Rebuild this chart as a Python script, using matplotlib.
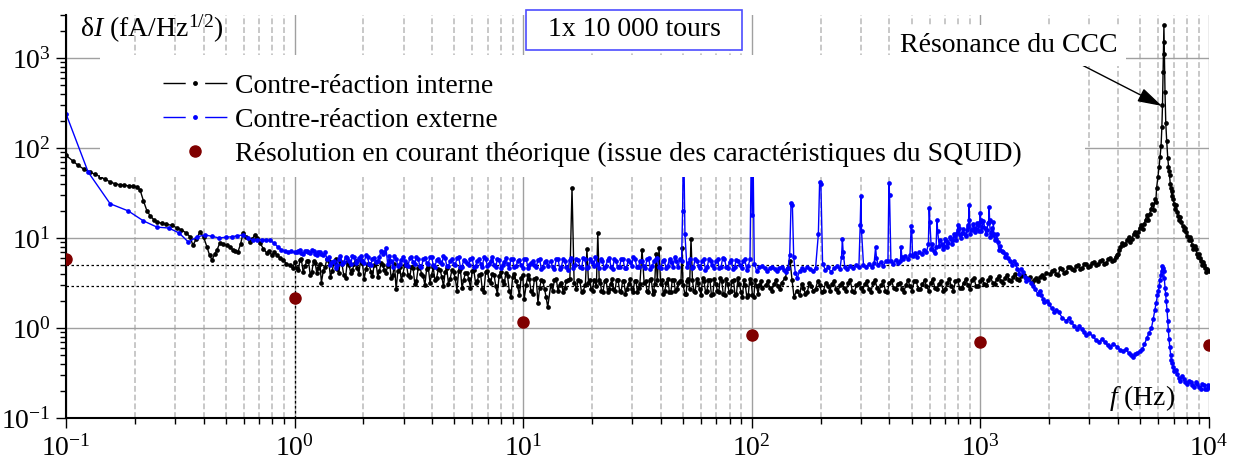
import matplotlib
matplotlib.use("Agg")
import matplotlib.pyplot as plt
import numpy as np
from matplotlib.lines import Line2D
from matplotlib.patches import Rectangle
from matplotlib.ticker import LogLocator, LogFormatterSciNotation, NullFormatter

# ---------------- data ----------------
# "Contre-réaction interne" (black)
int_f_a = [0.100, 0.107, 0.113, 0.120, 0.127, 0.134, 0.141, 0.148, 0.156, 0.164,
           0.172, 0.180, 0.188, 0.196, 0.204, 0.211, 0.218, 0.226, 0.234, 0.242,
           0.250, 0.262, 0.275, 0.290, 0.305, 0.320, 0.335, 0.349, 0.359, 0.372,
           0.386, 0.400, 0.414, 0.425, 0.435, 0.447, 0.458, 0.471, 0.488, 0.506,
           0.521, 0.537, 0.551, 0.565, 0.580, 0.595, 0.615, 0.637, 0.653, 0.670,
           0.688, 0.706, 0.730, 0.756, 0.775, 0.795, 0.815, 0.836, 0.862, 0.890,
           0.920, 0.953, 0.982]
int_v_a = [83, 72, 64, 58, 54, 51, 48, 45, 42, 40,
           39, 38.5, 38, 37.5, 37, 34, 26, 20, 17.5, 16,
           15, 14.6, 14.2, 13.8, 13, 12.3, 11.4, 10.3, 8.3, 9.8,
           11.7, 10.2, 7.9, 6.4, 5.7, 6.6, 7.4, 8.8, 8.6, 8.3,
           7.9, 7.4, 7.2, 7.0, 8.5, 11.3, 10.2, 9.0, 9.8, 10.8,
           10.0, 8.8, 7.6, 6.8, 7.2, 6.4, 6.9, 6.5, 6.0, 5.7,
           5.2, 5.0, 4.6]

int_f_b = [1.00, 1.04, 1.07, 1.11, 1.15, 1.19, 1.23, 1.27, 1.31, 1.36,
           1.41, 1.46, 1.51, 1.56, 1.61, 1.67, 1.73, 1.79, 1.85, 1.91,
           1.98, 2.05, 2.12, 2.19, 2.27, 2.35, 2.43, 2.51, 2.60, 2.69,
           2.78, 2.88, 2.98, 3.08, 3.19, 3.30, 3.41, 3.53, 3.65, 3.78,
           3.91, 4.04, 4.18, 4.33, 4.48, 4.63, 4.79, 4.96, 5.13, 5.31,
           5.49, 5.68, 5.88, 6.08, 6.29, 6.51, 6.73, 6.97, 7.21, 7.46,
           7.71, 7.98, 8.26, 8.54, 8.84, 9.14, 9.46, 9.79, 10.1, 10.5,
           10.8, 11.2, 11.6, 12.0, 12.4, 12.8]
int_v_b = [5.4, 4.4, 5.8, 4.9, 5.6, 4.2, 5.3, 4.6, 3.2, 4.8,
           5.5, 4.3, 5.9, 4.1, 5.2, 3.6, 5.0, 4.4, 5.6, 4.0,
           5.3, 4.5, 5.1, 3.8, 5.4, 4.3, 5.0, 4.1, 5.5, 3.9,
           2.7, 4.8, 4.0, 5.2, 3.7, 4.6, 3.3, 4.9, 3.8, 4.5,
           3.2, 4.7, 3.6, 4.4, 2.9, 4.6, 3.5, 4.2, 2.6, 4.5,
           3.4, 4.1, 2.8, 4.4, 3.3, 4.0, 2.5, 4.3, 3.2, 3.9,
           2.4, 4.2, 3.1, 3.8, 2.2, 4.0, 2.9, 3.6, 2.1, 3.9,
           2.6, 3.5, 1.9, 3.4, 2.7, 1.7]

mid_f_b = [1.02, 1.055, 1.09, 1.13, 1.17, 1.21, 1.25, 1.29, 1.335, 1.385,
           1.435, 1.485, 1.535, 1.585, 1.64, 1.70, 1.76, 1.82, 1.88, 1.945,
           2.015, 2.085, 2.155, 2.23, 2.31, 2.39, 2.47, 2.555, 2.645, 2.735,
           2.83, 2.93, 3.03, 3.135, 3.245, 3.355, 3.47, 3.59, 3.715, 3.845,
           3.975, 4.11, 4.255, 4.405, 4.555, 4.71, 4.875, 5.045, 5.22, 5.40,
           5.585, 5.78, 5.98, 6.185, 6.40, 6.62, 6.85, 7.09, 7.335, 7.585,
           7.845, 8.12, 8.40, 8.69, 8.99, 9.30, 9.625, 9.95, 10.3, 10.65,
           11.0, 11.4, 11.8, 12.2, 12.6]
int_v_b2 = [4.6, 5.7, 4.2, 5.5, 3.9, 5.6, 4.1, 5.2, 4.3, 5.8,
            3.7, 5.3, 4.5, 5.6, 3.9, 5.4, 4.1, 5.1, 4.6, 5.7,
            3.5, 5.2, 4.2, 5.0, 3.7, 5.3, 4.4, 4.9, 3.6, 5.1,
            4.3, 3.4, 5.0, 3.9, 4.8, 3.1, 4.6, 4.0, 3.0, 4.7,
            3.9, 3.4, 4.5, 3.7, 4.2, 3.1, 4.4, 3.6, 4.3, 2.8,
            4.1, 3.5, 4.3, 3.2, 3.9, 2.7, 4.2, 3.4, 4.0, 2.9,
            3.8, 3.3, 4.1, 2.6, 3.7, 3.3, 2.3, 3.9, 3.0, 3.5,
            2.4, 3.6, 2.8, 3.3, 2.2]

int_f_c = [13.2, 13.7, 14.2, 14.7, 15.2, 15.7, 16.0, 16.35, 16.7, 17.1,
           17.7, 18.3, 18.7, 19.0, 19.3, 19.8, 20.4, 20.9, 21.2, 21.5,
           22.0, 22.7, 23.4, 24.1, 24.8, 25.6, 26.4, 27.2, 28.0, 28.9,
           29.8, 30.7, 31.6, 32.4, 33.1, 33.8, 34.8, 35.8, 36.9, 37.6,
           38.1, 38.6, 39.3, 39.9, 41.0, 42.3, 43.6, 44.9, 46.3, 47.7,
           49.0, 49.5, 50.0, 51.0, 52.2, 53.4, 54.2, 55.0, 56.5, 58.2,
           60.0, 61.8, 63.7, 65.6, 67.6, 69.6, 71.7, 73.9, 76.1, 78.4,
           80.8, 83.2, 85.7, 88.3, 91.0, 93.7, 96.5, 99.4, 102, 105,
           108, 111]
int_v_c = [3.0, 3.4, 2.6, 3.2, 2.8, 3.4, 3.5, 36, 3.2, 2.7,
           3.3, 2.6, 3.0, 7.5, 3.2, 2.7, 3.4, 2.9, 11.4, 3.4,
           2.6, 3.3, 2.5, 3.1, 2.7, 3.4, 2.6, 3.3, 2.4, 3.1,
           2.7, 3.3, 2.5, 3.1, 7.4, 3.2, 2.6, 3.4, 2.4, 3.1,
           6.6, 3.4, 7.7, 3.1, 2.4, 3.2, 2.5, 3.4, 2.6, 3.2,
           3.3, 7.7, 3.0, 2.4, 3.3, 2.7, 9.8, 3.4, 2.5, 3.2,
           2.3, 3.3, 2.6, 3.4, 2.4, 3.1, 2.5, 3.3, 2.3, 3.1,
           2.6, 3.4, 2.4, 3.1, 2.2, 3.0, 2.3, 3.2, 2.2, 2.9,
           3.0, 2.8]

int_f_c2 = [13.45, 13.95, 14.45, 14.95, 15.45, 17.4, 18.0, 19.55, 20.1, 20.65,
            21.75, 22.35, 23.05, 23.75, 24.45, 25.2, 26.0, 26.8, 27.6, 28.45,
            29.35, 30.25, 31.15, 32.0, 34.3, 35.3, 36.35, 37.25, 40.45, 41.65,
            42.95, 44.25, 45.6, 47.0, 48.3, 51.6, 52.8, 55.75, 57.35, 59.1,
            60.9, 62.75, 64.65, 66.6, 68.6, 70.65, 72.8, 75.0, 77.25, 79.6,
            82.0, 84.45, 87.0, 89.65, 92.35, 95.1, 97.95, 100.7, 103.5, 106.5,
            109.5]
int_v_c2 = [2.6, 3.5, 3.0, 2.5, 3.3, 3.4, 2.5, 3.4, 2.6, 3.3,
            3.2, 2.5, 3.4, 2.7, 3.5, 2.6, 3.4, 2.5, 3.3, 2.7,
            3.5, 2.5, 3.3, 2.8, 3.3, 2.5, 3.5, 2.6, 3.4, 2.6,
            3.5, 2.5, 3.4, 2.7, 3.3, 2.4, 3.5, 2.6, 3.5, 2.7,
            3.6, 2.5, 3.4, 2.3, 3.5, 2.6, 3.6, 2.4, 3.5, 2.5,
            3.3, 2.3, 3.6, 2.5, 3.4, 2.2, 3.5, 2.3, 3.4, 2.4,
            3.3]

int_f_d = [115, 120, 125, 130, 135, 140, 144, 147, 150, 153,
           157, 162, 168, 175, 182, 190, 198, 206, 215, 224,
           233, 243, 253, 264, 275, 287, 299, 312, 325, 339,
           353, 368, 384, 400, 417, 435, 453, 472, 492, 513,
           535, 558, 581, 606, 632, 659, 687, 716, 746, 778,
           811, 845, 881, 918, 957, 998, 1040, 1085, 1130, 1180,
           1230, 1280, 1340, 1390, 1450, 1510, 1580, 1640, 1710, 1790,
           1860, 1940]
int_v_d = [3.0, 2.8, 3.1, 2.9, 3.2, 3.6, 4.6, 5.6, 3.4, 2.2,
           2.6, 2.3, 2.8, 2.5, 2.9, 2.7, 3.0, 2.6, 2.9, 3.1,
           2.7, 3.0, 2.8, 3.2, 2.6, 3.0, 2.8, 3.1, 2.7, 3.2,
           2.8, 3.0, 2.6, 3.2, 2.8, 3.1, 2.7, 3.0, 2.9, 3.3,
           2.7, 3.1, 2.9, 3.2, 2.8, 3.1, 2.6, 3.2, 2.9, 3.3,
           2.8, 3.2, 3.0, 3.4, 2.9, 3.3, 3.1, 3.4, 3.2, 3.5,
           3.3, 3.6, 3.4, 3.7, 3.5, 3.8, 3.6, 3.7, 3.4, 3.3,
           3.9, 4.1]

int_f_d2 = [117.5, 122.5, 127.5, 132.5, 165, 171.5, 178.5, 186, 194, 202,
            210.5, 219.5, 228.5, 238, 248, 258.5, 269.5, 281, 293, 305.5,
            318.5, 332, 346, 360.5, 376, 392, 408.5, 426, 444, 462.5,
            482, 502.5, 524, 546.5, 569.5, 593.5, 619, 645.5, 673, 701.5,
            731, 762, 794.5, 828, 863, 899.5, 937.5, 977.5, 1019, 1062,
            1107, 1155, 1205, 1255, 1310, 1365, 1420, 1480, 1545, 1610,
            1675, 1750, 1825, 1900]
int_v_d2 = [3.3, 2.6, 3.4, 2.7, 3.1, 2.4, 3.2, 2.6, 3.3, 2.5,
            3.2, 2.6, 3.3, 2.5, 3.2, 2.6, 3.4, 2.5, 3.2, 2.6,
            3.3, 2.5, 3.4, 2.6, 3.3, 2.5, 3.4, 2.7, 3.2, 2.5,
            3.4, 2.6, 3.3, 2.7, 3.4, 2.6, 3.5, 2.7, 3.3, 2.7,
            3.5, 2.6, 3.4, 2.8, 3.5, 2.7, 3.6, 2.9, 3.5, 3.0,
            3.7, 3.1, 3.8, 3.2, 3.9, 3.3, 4.0, 3.4, 3.9, 3.5,
            3.2, 3.6, 3.7, 3.6]

int_f_e = [2020, 2100, 2190, 2280, 2370, 2470, 2570, 2680, 2790, 2900,
           3020, 3150, 3280, 3410, 3550, 3700, 3850, 3950, 4050, 4150,
           4300, 4450, 4600, 4750, 4900, 5050, 5200, 5350, 5500, 5650,
           5800, 5900, 5980, 6050, 6110, 6170, 6220, 6260, 6300, 6330,
           6350, 6380, 6420, 6470, 6530, 6600, 6680, 6770, 6870, 6980,
           7100, 7250, 7400, 7570, 7750, 7950, 8150, 8350, 8550, 8750,
           8950, 9150, 9350, 9550, 9750, 9950]
int_v_e = [4.0, 4.4, 3.9, 4.5, 4.2, 4.8, 4.4, 5.0, 4.6, 5.2,
           4.9, 5.4, 5.1, 5.7, 5.3, 6.0, 5.7, 6.5, 7.4, 8.9,
           8.5, 10.2, 9.8, 11.8, 11.6, 14, 14.2, 18, 18.6, 24,
           27, 36, 48, 62, 80, 105, 170, 300, 700, 1500,
           2300, 1100, 420, 190, 120, 78, 55, 40, 29, 27,
           21, 19.5, 15.8, 15.2, 12.4, 11.8, 9.6, 9.4, 7.6, 7.5,
           6.1, 6.0, 5.0, 5.0, 4.2, 4.3]

int_f_e2 = [2060, 2145, 2235, 2325, 2420, 2520, 2625, 2735, 2845, 2960,
            3085, 3215, 3345, 3480, 3625, 3775, 3900, 4000, 4100, 4225,
            4375, 4525, 4675, 4825, 4975, 5125, 5275, 5425, 5575, 5725,
            5850, 6650, 6720, 6820, 6920, 7040, 7170, 7320, 7480, 7660,
            7850, 8050, 8250, 8450, 8650, 8850, 9050, 9250, 9450, 9650,
            9850]
int_v_e2 = [4.3, 4.0, 4.6, 4.1, 4.7, 4.5, 4.9, 4.5, 5.1, 4.8,
            5.3, 5.0, 5.5, 5.2, 5.8, 5.5, 6.2, 6.6, 8.0, 8.4,
            9.6, 9.1, 11.0, 10.5, 13.0, 12.6, 16.0, 15.7, 21, 20.5,
            25, 62, 50, 36, 33, 24, 23, 17.5, 17, 13.5,
            13.0, 10.5, 10.3, 8.3, 8.2, 6.7, 6.6, 5.5, 5.4, 4.6,
            4.5]

# "Contre-réaction externe" (blue)
ext_f_a = [0.100, 0.125, 0.156, 0.187, 0.218, 0.250, 0.281, 0.312, 0.343, 0.375,
           0.406, 0.437, 0.468, 0.500, 0.531, 0.562, 0.593, 0.625, 0.656, 0.687,
           0.718, 0.750, 0.781, 0.812, 0.843, 0.875, 0.906, 0.937, 0.968, 1.000]
ext_v_a = [240, 54, 24, 20, 15.5, 13.2, 12.9, 11.4, 9.0, 10.3,
           10.8, 10.4, 10.0, 10.2, 10.3, 10.6, 10.8, 10.0, 9.5, 9.6,
           9.6, 9.5, 9.4, 8.8, 8.0, 7.4, 7.2, 7.0, 7.1, 6.9]

ext_f_b = [1.03, 1.07, 1.11, 1.15, 1.19, 1.23, 1.27, 1.31, 1.36, 1.41,
           1.46, 1.51, 1.56, 1.61, 1.67, 1.73, 1.79, 1.85, 1.91, 1.98,
           2.05, 2.12, 2.19, 2.27, 2.35, 2.43, 2.51, 2.60, 2.69, 2.78,
           2.88, 2.98, 3.08, 3.19, 3.30, 3.41, 3.53, 3.65, 3.78, 3.91,
           4.04, 4.18, 4.33, 4.48, 4.63, 4.79, 4.96, 5.13, 5.31, 5.49,
           5.68, 5.88, 6.08, 6.29, 6.51, 6.73, 6.97, 7.21, 7.46, 7.71,
           7.98, 8.26, 8.54, 8.84, 9.14, 9.46, 9.79, 10.1, 10.5, 10.8,
           11.2, 11.6, 12.0, 12.4, 12.8]
ext_v_b = [7.1, 6.8, 7.2, 6.9, 7.3, 6.7, 7.0, 6.6, 7.0, 6.2,
           5.4, 4.6, 5.8, 5.2, 6.1, 5.5, 6.3, 5.3, 6.0, 5.6,
           6.4, 5.1, 5.9, 5.4, 6.2, 6.6, 7.7, 6.3, 4.8, 5.9,
           5.2, 6.1, 5.0, 6.0, 5.4, 6.2, 4.9, 5.8, 5.3, 6.1,
           5.0, 5.7, 5.4, 6.3, 4.9, 5.6, 5.2, 6.0, 4.8, 5.7,
           5.3, 5.9, 4.7, 5.5, 5.2, 6.1, 4.9, 5.6, 5.0, 5.8,
           4.6, 5.4, 5.1, 5.9, 4.7, 5.5, 5.0, 5.8, 4.6, 5.3,
           5.0, 5.7, 4.5, 5.4, 4.9]
ext_v_b2 = [6.9, 7.3, 6.6, 7.1, 6.8, 7.2, 6.5, 6.9, 6.4, 5.8,
            5.0, 5.6, 5.0, 6.3, 5.4, 6.0, 5.1, 6.2, 5.5, 6.3,
            5.3, 6.1, 5.0, 6.0, 5.6, 7.2, 6.9, 5.1, 5.5, 6.3,
            4.9, 5.7, 5.6, 4.9, 6.2, 5.1, 5.9, 4.7, 6.0, 5.2,
            6.2, 4.8, 5.9, 5.1, 6.0, 4.9, 5.8, 5.0, 6.2, 4.8,
            5.6, 5.0, 6.0, 4.9, 5.8, 4.7, 5.9, 5.2, 6.1, 4.8,
            5.7, 5.0, 6.0, 4.6, 5.8, 4.9, 5.7, 4.6, 5.9, 5.0,
            5.5, 4.7, 5.9, 4.8, 5.6]

ext_f_c = [13.2, 13.7, 14.2, 14.7, 15.2, 15.7, 16.2, 16.8, 17.4, 18.0,
           18.6, 19.3, 20.0, 20.7, 21.4, 22.2, 23.0, 23.8, 24.6, 25.5,
           26.4, 27.3, 28.3, 29.3, 30.3, 31.4, 32.5, 33.6, 34.8, 36.0,
           37.3, 38.6, 40.0, 41.4, 42.9, 44.4, 46.0, 47.6, 49.3, 49.8,
           50.3, 51.0, 52.8, 54.6, 56.5, 58.5, 60.6, 62.7, 64.9, 67.2,
           69.6, 72.0, 74.6, 77.2, 79.9, 82.7, 85.6, 88.6, 91.7, 94.9,
           98.2, 99.6, 100.4, 101.2, 102.5, 105, 108, 111, 114, 117,
           120, 123, 126, 129, 132, 135, 138, 141, 144, 146.5,
           148.5, 150.5, 152.5, 155, 158, 162, 166, 170, 175, 180,
           185, 190, 195.5, 198, 200.5, 204, 210, 216, 222, 229,
           236, 243, 247, 249, 251, 255, 262, 270, 278, 286,
           294, 298, 300, 302, 308, 316, 325, 334, 343, 348,
           351, 357, 366, 376, 386, 394, 398, 400.5, 406, 416,
           426, 437, 447, 450, 453, 460, 470, 481, 492, 498,
           501, 505, 516, 528, 541, 554, 567, 581, 592, 597,
           601, 610, 625, 640, 646, 650, 660, 676, 692, 708,
           725, 742, 760, 778, 792, 797, 801, 815, 834, 853,
           873, 887, 891, 896, 915, 935, 955, 975, 993, 998,
           1003, 1020, 1045, 1070, 1086, 1092, 1097, 1115, 1135, 1140,
           1145, 1165, 1190]
ext_v_c = [5.6, 4.5, 5.9, 4.8, 5.5, 4.4, 6.0, 5.0, 5.7, 4.6,
           5.8, 4.7, 5.4, 6.1, 4.6, 5.6, 4.9, 6.0, 4.5, 5.5,
           4.8, 5.9, 4.6, 5.4, 6.2, 4.7, 5.6, 4.9, 5.8, 4.5,
           5.5, 6.0, 4.6, 5.7, 4.9, 5.4, 6.1, 4.7, 5.5, 20,
           150, 11, 5.3, 4.6, 5.8, 4.9, 5.6, 4.4, 5.9, 5.0,
           5.5, 4.6, 6.0, 4.8, 5.4, 4.5, 5.7, 5.0, 5.6, 4.4,
           5.8, 120, 18, 100, 5.2, 4.3, 4.7, 4.9, 4.6, 4.3,
           4.6, 4.8, 4.5, 4.3, 4.6, 4.8, 4.4, 4.2, 4.6, 6.5,
           24.5, 23, 6.2, 4.1, 3.6, 4.3, 4.6, 4.4, 4.7, 4.5,
           4.3, 4.6, 11, 42, 40, 5.2, 4.4, 4.7, 4.2, 4.6,
           4.9, 4.5, 6.2, 9.7, 7.0, 4.8, 4.5, 4.9, 4.6, 5.0,
           4.7, 14, 29, 12, 5.0, 4.7, 5.1, 4.8, 5.3, 7.9,
           6.0, 5.0, 5.4, 4.9, 5.5, 5.6, 41, 30, 5.5, 5.2,
           5.7, 5.3, 5.6, 7.9, 6.2, 5.9, 6.3, 5.8, 6.5, 13.6,
           12, 6.3, 6.8, 6.2, 7.0, 6.6, 7.3, 7.0, 8.5, 21.5,
           15, 7.6, 7.2, 8.0, 15.8, 12, 8.2, 8.6, 8.2, 9.2,
           8.8, 9.8, 9.4, 10.5, 11.5, 14, 12.4, 10.8, 11.5, 11.0,
           12.2, 14, 23, 16, 12.4, 13.0, 12.6, 13.8, 15, 19,
           16, 13.4, 13.0, 12.2, 15, 22, 16, 11.4, 10.8, 15,
           11.0, 9.8, 9.0]

ext_f_c2 = [13.45, 13.95, 14.45, 14.95, 15.45, 15.95, 16.5, 17.1, 17.7, 18.3,
            18.95, 19.65, 20.35, 21.05, 21.8, 22.6, 23.4, 24.2, 25.05, 25.95,
            26.85, 27.8, 28.8, 29.8, 30.85, 31.95, 33.05, 34.2, 35.4, 36.65,
            37.95, 39.3, 40.7, 42.15, 43.65, 45.2, 46.8, 48.4, 52.0, 53.7,
            55.55, 57.5, 59.55, 61.65, 63.8, 66.05, 68.4, 70.8, 73.3, 75.9,
            78.55, 81.3, 84.15, 87.1, 90.15, 93.3, 96.5,
            617, 632, 668, 684, 700, 716, 733, 751, 769, 785,
            808, 824, 843, 863, 880, 905, 925, 945, 965, 985,
            1010, 1030, 1057, 1078, 1105, 1125, 1155, 1178, 1205]
ext_v_c2 = [4.7, 5.8, 4.5, 5.9, 4.7, 5.7, 4.6, 5.9, 4.8, 6.0,
            4.6, 5.8, 4.9, 5.2, 5.9, 4.6, 5.7, 4.8, 5.9, 4.7,
            5.8, 4.6, 5.7, 4.9, 5.9, 4.8, 5.5, 4.6, 6.0, 4.9,
            5.8, 4.7, 5.6, 4.6, 5.9, 4.8, 5.5, 5.9, 4.8, 5.8,
            4.7, 5.6, 4.6, 5.8, 4.7, 5.5, 4.6, 5.8, 4.7, 5.9,
            4.6, 5.7, 4.8, 5.5, 4.6, 5.8, 4.9,
            8.6, 6.8, 9.4, 7.6, 9.8, 8.0, 10.2, 8.6, 11.2, 9.6,
            12.8, 10.0, 12.6, 10.4, 13.4, 11.0, 14.4, 11.6, 14.8, 12.0,
            12.0, 15.5, 11.0, 14.5, 10.2, 13.0, 9.6, 11.0, 7.4]

ext_f_d = [1220, 1260, 1300, 1350, 1400, 1450, 1500, 1560, 1620, 1700,
           1780, 1850, 1900, 2000, 2100, 2200, 2370, 2500, 2650, 2770,
           2900, 3100, 3300, 3500, 3700, 3950, 4200, 4450, 4650, 4850,
           5100, 5350, 5600, 5800, 5950, 6050, 6150, 6250, 6330, 6420,
           6500, 6600, 6680, 6800, 6900, 7050, 7250, 7500, 7750, 8000,
           8300, 8600, 8900, 9200, 9500, 9800, 10000]
ext_v_d = [8.2, 7.0, 6.6, 5.5, 5.6, 4.5, 4.5, 3.7, 3.5, 2.9,
           2.4, 2.3, 1.95, 1.85, 1.52, 1.5, 1.2, 1.16, 0.98, 0.97,
           0.84, 0.81, 0.70, 0.70, 0.61, 0.62, 0.55, 0.53, 0.48, 0.53,
           0.58, 0.78, 1.0, 1.6, 2.3, 2.9, 3.9, 4.9, 4.3, 2.8,
           2.0, 1.2, 0.76, 0.5, 0.41, 0.33, 0.31, 0.26, 0.27, 0.24,
           0.25, 0.22, 0.24, 0.21, 0.23, 0.21, 0.22]

ext_f_d2 = [1240, 1280, 1325, 1375, 1425, 1475, 1530, 1590, 1660, 1740,
            1815, 1875, 1950, 2050, 2150, 2280, 2430, 2570, 2710, 2830,
            3000, 3200, 3400, 3600, 3820, 4070, 4320, 4550, 4750, 4970,
            5220, 5470, 5700, 5870, 6000, 6100, 6200, 6290, 6370, 6460,
            6550, 6640, 6740, 6850, 6970, 7150, 7370, 7620, 7870, 8150,
            8450, 8750, 9050, 9350, 9650, 9900]
ext_v_d2 = [7.2, 6.2, 6.0, 5.0, 5.1, 4.0, 4.2, 3.3, 3.2, 2.7,
            2.6, 2.1, 2.0, 1.65, 1.6, 1.3, 1.28, 1.06, 1.04, 0.9,
            0.88, 0.74, 0.75, 0.64, 0.67, 0.57, 0.58, 0.5, 0.51, 0.55,
            0.66, 0.88, 1.25, 1.9, 2.6, 3.4, 4.3, 4.6, 3.6, 2.4,
            1.6, 0.95, 0.62, 0.44, 0.37, 0.34, 0.28, 0.29, 0.25, 0.26,
            0.23, 0.25, 0.22, 0.24, 0.21, 0.23]

# theoretical current resolution (dark red dots)
theo_f = [0.1, 1, 10, 100, 1000, 10000]
theo_v = [5.85, 2.17, 1.17, 0.84, 0.69, 0.65]

# dotted guide lines
guide_levels = [5.0, 2.9]
guide_ends = [2000, 1500]
guide_vf = 1.0
guide_vtop = 5.0

labels = ["Contre-réaction interne", "Contre-réaction externe",
          "Résolution en courant théorique (issue des caractéristiques du SQUID)"]
resonance_tip = (6223, 293)
resonance_tail = (2727, 857)


def merge(fs, vs):
    f = np.concatenate(fs)
    v = np.concatenate(vs)
    assert len(f) == len(v), (len(f), len(v))
    o = np.argsort(f, kind='stable')
    return f[o], v[o]


int_f, int_v = merge([int_f_a, int_f_b, mid_f_b, int_f_c, int_f_c2, int_f_d, int_f_d2, int_f_e, int_f_e2],
                     [int_v_a, int_v_b, int_v_b2, int_v_c, int_v_c2, int_v_d, int_v_d2, int_v_e, int_v_e2])
ext_f, ext_v = merge([ext_f_a, ext_f_b, mid_f_b, ext_f_c, ext_f_c2, ext_f_d, ext_f_d2],
                     [ext_v_a, ext_v_b, ext_v_b2, ext_v_c, ext_v_c2, ext_v_d, ext_v_d2])

# ---------------- style ----------------
plt.rcParams['font.family'] = ['Liberation Serif', 'DejaVu Serif']
plt.rcParams['mathtext.fontset'] = 'custom'
plt.rcParams['mathtext.rm'] = 'Liberation Serif'
plt.rcParams['mathtext.it'] = 'Liberation Serif:italic'
plt.rcParams['mathtext.bf'] = 'Liberation Serif:bold'

W, H = 1238, 461
fig = plt.figure(figsize=(W / 100, H / 100), dpi=100)
ax = fig.add_axes([66 / W, 1 - 418 / H, (1209 - 66) / W, (418 - 15) / H])

ax.set_xscale('log')
ax.set_yscale('log')
ax.set_xlim(0.1, 1e4)
ax.set_ylim(0.1, 3000)

ax.plot(int_f, int_v, color='black', lw=1, marker='o', ms=3.4, mew=0, zorder=2)
ax.plot(ext_f, ext_v, color='#0000ff', lw=1, marker='o', ms=3.4, mew=0, zorder=2.1)
ax.plot(theo_f, theo_v, ls='none', marker='o', ms=8, color='#800000', zorder=3)

for lev, end in zip(guide_levels, guide_ends):
    ax.hlines(lev, 0.1, end, colors='black', lw=0.9, linestyles=(0, (2, 2)), zorder=1.5)
ax.vlines(guide_vf, 0.1, guide_vtop, colors='black', lw=0.9, linestyles=(0, (2, 2)), zorder=1.5)

ax.set_axisbelow(True)
ax.grid(which='major', axis='both', color='#a0a0a0', lw=1, ls='-')
ax.grid(which='minor', axis='x', color='#c8c8c8', lw=1.4, ls=(0, (3, 1.5)))

ax.xaxis.set_major_locator(LogLocator(base=10, numticks=10))
ax.xaxis.set_minor_locator(LogLocator(base=10, subs=np.arange(2, 10), numticks=20))
ax.yaxis.set_major_locator(LogLocator(base=10, numticks=10))
ax.yaxis.set_minor_locator(LogLocator(base=10, subs=np.arange(2, 10), numticks=20))
ax.xaxis.set_major_formatter(LogFormatterSciNotation())
ax.yaxis.set_major_formatter(LogFormatterSciNotation())
ax.xaxis.set_minor_formatter(NullFormatter())
ax.yaxis.set_minor_formatter(NullFormatter())

ax.tick_params(axis='both', which='major', direction='out', length=7, width=1,
               labelsize=20, colors='black')
ax.tick_params(axis='both', which='minor', direction='out', length=4, width=1)
ax.tick_params(axis='x', which='major', pad=5)
ax.tick_params(axis='y', which='major', pad=4)

for s in ['top', 'right']:
    ax.spines[s].set_visible(False)
for s in ['left', 'bottom']:
    ax.spines[s].set_linewidth(1.5)

# white box behind legend
ax.add_patch(Rectangle((0.0297, 0.598), 0.862, 0.303, transform=ax.transAxes,
                       facecolor='white', edgecolor='none', zorder=4))

h1 = Line2D([], [], color='black', lw=1, marker='o', ms=3.5, mew=0, dashes=(16, 14, 16, 200))
h2 = Line2D([], [], color='#0000ff', lw=1, marker='o', ms=3.5, mew=0, dashes=(16, 14, 16, 200))
h3 = Line2D([], [], ls='none', marker='o', ms=8, color='#800000')
leg = ax.legend([h1, h2, h3], labels, loc='upper left', bbox_to_anchor=(0.0849, 0.8546),
                frameon=False, fontsize=20, handlelength=2.3, handletextpad=0.3,
                labelspacing=0.3, borderpad=0, borderaxespad=0, numpoints=1)
leg.set_zorder(6)

# texts
fig.text(80 / W, 1 - 37 / H, r'δ$I$ (fA/Hz$^{1/2}$)', ha='left', va='baseline', fontsize=20)
fig.text(1175 / W, 1 - 405 / H, r'$f$ (Hz)', ha='right', va='baseline', fontsize=20)

fig.patches.append(Rectangle((526 / W, 1 - 50 / H), 216 / W, 40 / H, transform=fig.transFigure,
                             facecolor='white', edgecolor='#4d4dff', lw=1.2, zorder=10))
fig.text(634 / W, 1 - 30 / H, '1x 10 000 tours', ha='center', va='center', fontsize=20, zorder=11)

fig.text(1009 / W, 1 - 52 / H, 'Résonance du CCC', ha='center', va='baseline', fontsize=20,
         bbox=dict(facecolor='white', edgecolor='none', boxstyle='square,pad=0.3'), zorder=5)

ax.annotate('', xy=resonance_tip, xytext=resonance_tail,
            arrowprops=dict(arrowstyle='-|>,head_length=0.75,head_width=0.22',
                            color='black', lw=1, shrinkA=0, shrinkB=0, mutation_scale=20),
            zorder=7)

fig.savefig('out.png', dpi=100)
